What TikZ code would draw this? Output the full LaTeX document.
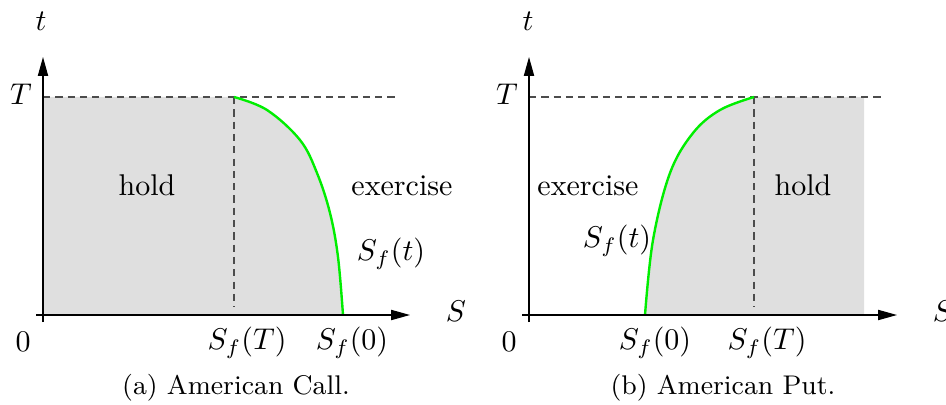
\documentclass[tikz,border=0pt]{standalone}
\usetikzlibrary{arrows.meta}
\begin{document}
\begin{tikzpicture}[x=0.3333pt,y=0.3333pt,
  axis/.style={line width=0.4pt,-{Triangle[length=6.3pt,width=3.4pt]}},
  guide/.style={line width=0.4pt,draw=black!70,dash pattern=on 2.4pt off 1.7pt},
  region/.style={fill=black!12.5},
  lbl/.style={inner sep=0pt,font=\normalsize},
  captext/.style={inner sep=0pt,font=\small}]
\useasboundingbox (0,0) rectangle (946,404);
\definecolor{bgreen}{RGB}{0,238,0}
\tikzset{bnd/.style={line width=0.8pt,draw=bgreen}}
% ---------- (a) American Call ----------
\coordinate (a0) at (43,89);
\coordinate (aT) at (43,307);
\coordinate (aK) at (234,307);
\coordinate (aF) at (343,89);
\fill[region] (a0) -- (aT) -- plot[smooth,tension=0.6] coordinates {(234,307) (267,294) (300,264) (317,231) (330,191) (338,147) (343,89)} -- cycle;
\draw[guide] (aT) -- (398,307);
\draw[guide] (aK) -- (234,97);
\draw[bnd] plot[smooth,tension=0.6] coordinates {(234,307) (267,294) (300,264) (317,231) (330,191) (338,147) (343,89)};
\coordinate (ayb) at (43,82);
\coordinate (ayt) at (43,347);
\coordinate (axl) at (36,89);
\coordinate (axr) at (410,89);
\draw[axis] (ayb) -- (ayt);
\draw[axis] (axl) -- (axr);
\node[lbl] (at) at (41,383) {$t$};
\node[lbl] (aTl) at (21,310) {$T$};
\node[lbl] (a0l) at (23,62) {$0$};
\node[lbl] (aS) at (456,93) {$S$};
\node[lbl] (aSfT) at (247,61) {$S_f(T)$};
\node[lbl] (aSf0) at (352,61) {$S_f(0)$};
\node[lbl,anchor=base] (ahold) at (147,209) {hold};
\node[lbl,anchor=base] (aex) at (402,209) {exercise};
\node[lbl] (aSft) at (391,150) {$S_f(t)$};
\node[captext] (acap) at (236,16) {(a)\ American Call.};
% ---------- (b) American Put ----------
\coordinate (b0) at (529,89);
\coordinate (bT) at (529,307);
\coordinate (bK) at (754,307);
\coordinate (bF) at (645,89);
\fill[region] plot[smooth,tension=0.6] coordinates {(645,89) (653,164) (670,231) (693,271) (720,294) (754,307)} -- (864,307) -- (864,89) -- cycle;
\draw[guide] (bT) -- (885,307);
\draw[guide] (bK) -- (754,97);
\draw[bnd] plot[smooth,tension=0.6] coordinates {(645,89) (653,164) (670,231) (693,271) (720,294) (754,307)};
\coordinate (byb) at (529,82);
\coordinate (byt) at (529,347);
\coordinate (bxl) at (522,89);
\coordinate (bxr) at (897,89);
\draw[axis] (byb) -- (byt);
\draw[axis] (bxl) -- (bxr);
\node[lbl] (bt) at (528,383) {$t$};
\node[lbl] (bTl) at (507,310) {$T$};
\node[lbl] (b0l) at (509,62) {$0$};
\node[lbl] (bS) at (943,93) {$S$};
\node[lbl] (bSf0) at (655,61) {$S_f(0)$};
\node[lbl] (bSfT) at (767,61) {$S_f(T)$};
\node[lbl,anchor=base] (bex) at (588,209) {exercise};
\node[lbl,anchor=base] (bhold) at (803,209) {hold};
\node[lbl] (bSft) at (617,163) {$S_f(t)$};
\node[captext] (bcap) at (723,16) {(b)\ American Put.};
\end{tikzpicture}
\end{document}
